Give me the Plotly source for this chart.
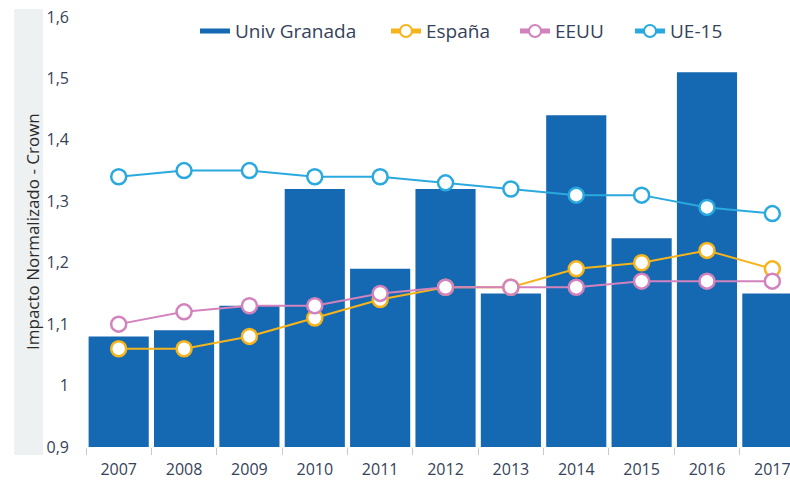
import plotly.graph_objects as go

years = ["2007", "2008", "2009", "2010", "2011", "2012", "2013", "2014", "2015", "2016", "2017"]
univ_granada = [1.08, 1.09, 1.13, 1.32, 1.19, 1.32, 1.15, 1.44, 1.24, 1.51, 1.15]
espana = [1.06, 1.06, 1.08, 1.11, 1.14, 1.16, 1.16, 1.19, 1.20, 1.22, 1.19]
eeuu = [1.10, 1.12, 1.13, 1.13, 1.15, 1.16, 1.16, 1.16, 1.17, 1.17, 1.17]
ue15 = [1.34, 1.35, 1.35, 1.34, 1.34, 1.33, 1.32, 1.31, 1.31, 1.29, 1.28]
y_ticks = [0.9, 1.0, 1.1, 1.2, 1.3, 1.4, 1.5, 1.6]
y_tick_text = ["0,9", "1", "1,1", "1,2", "1,3", "1,4", "1,5", "1,6"]

FONT = "Open Sans"
TXT = "#35425a"
BAR = "#1569b2"

fig = go.Figure()
fig.add_trace(go.Bar(x=years, y=[v - 0.9 for v in univ_granada], base=0.9,
                     name="Univ Granada", legendgroup="ug", showlegend=False,
                     marker=dict(color=BAR, line=dict(width=0))))
# legend entry for the bars (wide rectangle symbol)
fig.add_trace(go.Scatter(x=[None], y=[None], mode="lines", name="Univ Granada",
                         legendgroup="ug", line=dict(color=BAR, width=14), legend="legend"))

def line(name, vals, color, leg):
    fig.add_trace(go.Scatter(x=years, y=vals, name=name, mode="lines+markers",
                             line=dict(color=color, width=2),
                             marker=dict(size=15, color="white", line=dict(color=color, width=2.5)),
                             legend=leg))

line("España", espana, "#f5b41c", "legend2")
line("EEUU", eeuu, "#d282bd", "legend3")
line("UE-15", ue15, "#2aa9df", "legend4")

fig.add_shape(type="rect", xref="paper", yref="paper", x0=-0.102, x1=-0.061, y0=-0.0186, y1=1.0186,
              fillcolor="#eef1f1", line=dict(width=0), layer="below")
fig.add_annotation(text="Impacto Normalizado - Crown", xref="paper", yref="paper",
                   x=-0.0767, y=0.5, xanchor="center", yanchor="middle", textangle=-90,
                   showarrow=False, font=dict(family=FONT, size=17, color="#2b2b2b"))

def leg(xpx):
    return dict(orientation="h", x=(xpx - 86) / 704, y=0.967, yanchor="middle", xanchor="left",
                font=dict(family=FONT, size=19, color=TXT), bgcolor="rgba(0,0,0,0)",
                itemwidth=30, itemsizing="constant")

fig.update_layout(
    width=790, height=486,
    margin=dict(l=86, r=0, t=17, b=39),
    plot_bgcolor="white", paper_bgcolor="white",
    bargap=0.08,
    font=dict(family=FONT, color=TXT, size=16),
    showlegend=True,
    legend=leg(195), legend2=leg(386), legend3=leg(515), legend4=leg(630),
    xaxis=dict(type="category", range=[-0.5, 10.27], tickson="boundaries", ticks="outside",
               ticklen=7, tickcolor="#c8c8c8", showgrid=False, showline=False, zeroline=False,
               ticklabelstandoff=11, tickfont=dict(family=FONT, size=16, color=TXT)),
    yaxis=dict(range=[0.9, 1.6], tickvals=y_ticks, ticktext=y_tick_text, showgrid=False,
               zeroline=False, showline=False, ticks="", ticklabelstandoff=16,
               tickfont=dict(family=FONT, size=16, color=TXT)),
)

fig.write_html("out.html")
